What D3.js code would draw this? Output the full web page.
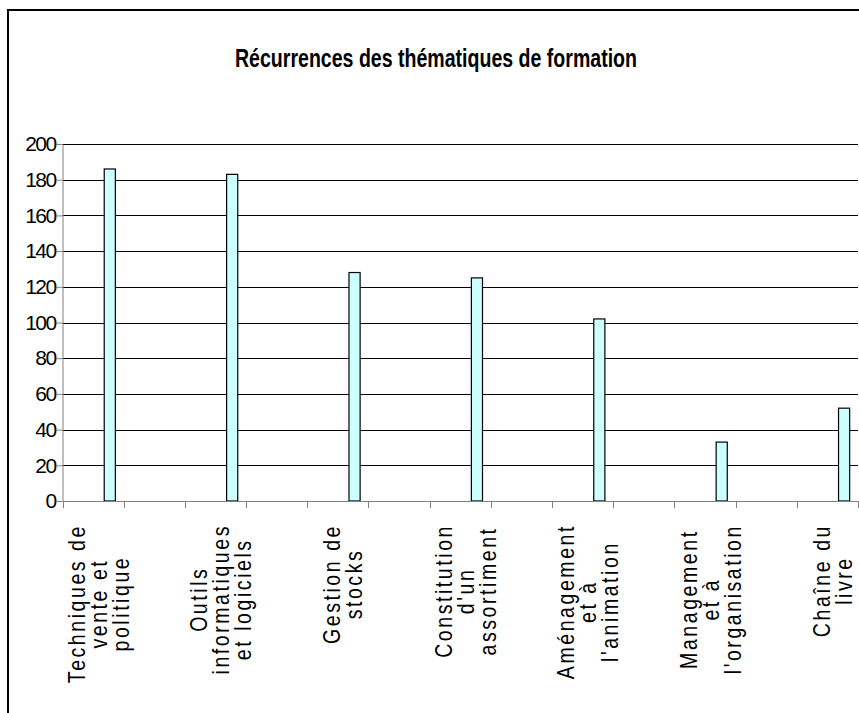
<!DOCTYPE html>
<html lang="fr">
<head>
<meta charset="UTF-8">
<title>Récurrences des thématiques de formation</title>
<script src="https://cdn.jsdelivr.net/npm/d3@7"></script>
<style>
  body{margin:0;background:#fff}
  text{font-family:"Liberation Sans",Arial,sans-serif;fill:#000}
</style>
</head>
<body>
<svg width="859" height="713"></svg>
<script>
// données
var categories = [
    ["Techniques de", "vente et", "politique"],
    ["Outils", "informatiques", "et logiciels"],
    ["Gestion de", "stocks"],
    ["Constitution", "d'un", "assortiment"],
    ["Aménagement", "et à", "l'animation"],
    ["Management", "et à", "l'organisation"],
    ["Chaîne du", "livre"]
];
var values = [186, 183, 128, 125, 102, 33, 52];
var yTicks = [0, 20, 40, 60, 80, 100, 120, 140, 160, 180, 200];
var title = "Récurrences des thématiques de formation";

var svg = d3.select("svg");

// cadre du graphique
svg.append("rect")
    .attr("x", 8).attr("y", 10)
    .attr("width", 900).attr("height", 760)
    .attr("fill", "#fff")
    .attr("stroke", "#000")
    .attr("stroke-width", 2);

// 13 emplacements : une catégorie sur deux est vide
var slots = [];
categories.forEach(function(c, i){
    slots.push({label: c, value: values[i]});
    if (i < categories.length - 1) slots.push({label: null, value: null});
});

var plotLeft = 62.5, plotRight = 858, plotTop = 144, plotBottom = 501;

var x = d3.scaleBand()
    .domain(d3.range(slots.length))
    .range([plotLeft, plotRight]);

// 4 séries par groupe, seule la dernière est remplie
var xs = d3.scaleBand()
    .domain([0, 1, 2, 3])
    .range([0, x.bandwidth()])
    .paddingOuter(0.75);

var y = d3.scaleLinear()
    .domain([0, 200])
    .range([plotBottom, plotTop]);

// quadrillage
svg.append("g").selectAll("line")
    .data(yTicks.filter(function(d){ return d > 0; }))
    .enter().append("line")
    .attr("x1", plotLeft).attr("x2", plotRight)
    .attr("y1", function(d){ return Math.round(y(d)) + 0.5; })
    .attr("y2", function(d){ return Math.round(y(d)) + 0.5; })
    .attr("stroke", "#000")
    .attr("stroke-width", 1);

// barres
svg.append("g").selectAll("rect")
    .data(slots.map(function(d, i){ return {i: i, v: d.value}; }).filter(function(d){ return d.v != null; }))
    .enter().append("rect")
    .attr("x", function(d){ return x(d.i) + xs(3); })
    .attr("width", xs.bandwidth())
    .attr("y", function(d){ return y(d.v); })
    .attr("height", function(d){ return plotBottom - y(d.v); })
    .attr("fill", "#ccffff")
    .attr("stroke", "#000")
    .attr("stroke-width", 1.2);

// axe vertical
var yAxis = d3.axisLeft(y).tickValues(yTicks).tickSize(6).tickSizeOuter(0);
var gy = svg.append("g")
    .attr("transform", "translate(" + plotLeft + ",0)")
    .call(yAxis);
gy.select(".domain").attr("stroke", "#808080");
gy.selectAll(".tick line").attr("stroke", "#808080");
gy.selectAll(".tick text")
    .attr("x", -7)
    .style("font-size", "21px")
    .style("letter-spacing", "-1.6px")
    .style("font-family", "'Liberation Sans', Arial, sans-serif");

// axe horizontal avec graduations entre les catégories
var gx = svg.append("g");
gx.append("line")
    .attr("x1", plotLeft).attr("x2", plotRight)
    .attr("y1", plotBottom + 0.5).attr("y2", plotBottom + 0.5)
    .attr("stroke", "#808080");
gx.selectAll(".tk")
    .data(d3.range(slots.length + 1))
    .enter().append("line")
    .attr("class", "tk")
    .attr("x1", function(d){ return Math.round(plotLeft + d * x.step()) + 0.5; })
    .attr("x2", function(d){ return Math.round(plotLeft + d * x.step()) + 0.5; })
    .attr("y1", plotBottom).attr("y2", plotBottom + 7)
    .attr("stroke", "#808080");

// libellés verticaux (police étroite, lettres espacées)
var pitch = 22, squeeze = 0.85;
slots.forEach(function(s, i){
    if (!s.label) return;
    var cx = x(i) + x.bandwidth() / 2 + 5.5;
    var n = s.label.length;
    var g = svg.append("g");
    var texts = s.label.map(function(line){
        return g.append("text")
            .attr("text-anchor", "middle")
            .style("font-size", "23px")
            .style("letter-spacing", "3px")
            .text(line);
    });
    var maxLen = squeeze * d3.max(texts, function(t){ return t.node().getComputedTextLength(); });
    texts.forEach(function(t, j){
        var bx = cx + (j - (n - 1) / 2) * pitch + 8;
        t.attr("transform", "translate(" + bx + "," + (524 + maxLen / 2) + ") rotate(-90) scale(" + squeeze + ",1)");
    });
});

// titre
svg.append("text")
    .attr("x", 436).attr("y", 67)
    .attr("text-anchor", "middle")
    .attr("textLength", 402)
    .attr("lengthAdjust", "spacingAndGlyphs")
    .style("font-size", "26px")
    .style("font-weight", "bold")
    .text(title);
</script>
</body>
</html>
